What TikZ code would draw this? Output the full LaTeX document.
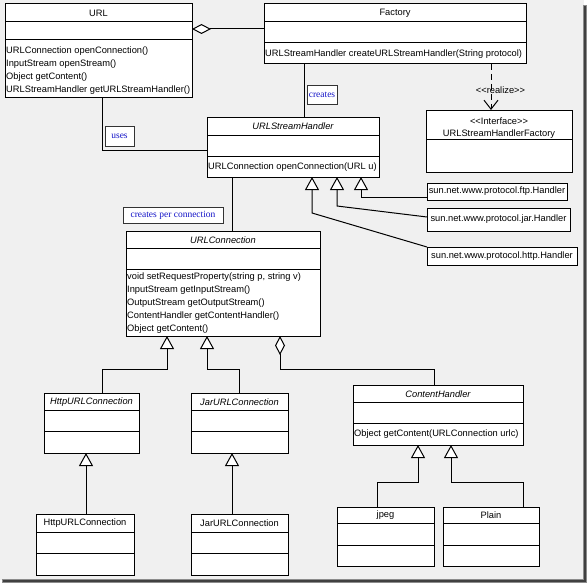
\documentclass[tikz,border=0pt]{standalone}
\usepackage{fontspec}
\setmainfont{Liberation Sans}
\newfontfamily\lblfont{Liberation Serif}
\usetikzlibrary{arrows.meta}
\definecolor{bg}{HTML}{F0F0F0}
\definecolor{lblblue}{RGB}{20,20,200}
\newcommand\umlcls[7]{%
  \node[cls, minimum width={(#4-#2)*1pt}, minimum height={(#5-#3)*1pt}] (#1) at ({(#2+#4)/2},{(#3+#5)/2}) {};
  \draw[ln] (#2,#6) -- (#4,#6);
  \draw[ln] (#2,#7) -- (#4,#7);
}
\begin{document}
\begin{tikzpicture}[x=1pt,y=-1pt,
  ln/.style={line width=1pt, black},
  cls/.style={draw, line width=1pt, fill=white, inner sep=0pt, outer sep=0pt},
  meth/.style={anchor=west, inner sep=0pt, font=\fontsize{9.3}{11}\selectfont},
  ttl/.style={inner sep=0pt, font=\fontsize{9.3}{11}\selectfont},
  ittl/.style={inner sep=0pt, font=\fontsize{9.3}{11}\selectfont\itshape},
  hbox/.style={draw, line width=1pt, fill=white, inner sep=0pt, outer sep=0pt, font=\fontsize{9.3}{11}\selectfont},
  lbl/.style={draw=black!80, fill=white, line width=0.8pt, inner sep=0pt, outer sep=0pt, text=lblblue, font=\lblfont\fontsize{9.5}{11}\selectfont},
  gen/.style={ln, -{Triangle[length=13pt,width=14pt,fill=white]}},
  agg/.style={ln, -{Diamond[length=19pt,width=10pt,fill=white]}},
  real/.style={ln, dash pattern=on 6pt off 4pt, -{Straight Barb[length=9pt,width=14pt]}},
  assoc/.style={ln}]
\useasboundingbox (0,0) rectangle (588,583);
\fill[white] (0,0) rectangle (588,583);
\fill[bg] (0,0) rectangle (584,580);
\fill[black!45] (583,5) rectangle (587,583);
\fill[black!45] (2,579) rectangle (587,583);
\fill[black!75] (584,6) rectangle (586,582);
\fill[black!75] (3,580) rectangle (586,582);

% classes
\umlcls{url}{5}{4}{192}{98}{22}{40}
\node[ttl] (urlT) at (98.5,13.5) {URL};
\node[meth] (urlM1) at (6,51) {URLConnection openConnection()};
\node[meth] (urlM2) at (6,64) {InputStream openStream()};
\node[meth] (urlM3) at (6,77) {Object getContent()};
\node[meth] (urlM4) at (6,90) {URLStreamHandler getURLStreamHandler()};

\umlcls{fac}{264}{4}{526}{64}{22}{43}
\node[ttl] (facT) at (395,13.5) {Factory};
\node[meth] (facM1) at (265,54) {URLStreamHandler createURLStreamHandler(String protocol)};

\umlcls{ush}{207}{117}{379}{177}{135}{156}
\node[ittl] (ushT) at (293,126.5) {URLStreamHandler};
\node[meth] (ushM1) at (208,167) {URLConnection openConnection(URL u)};

\umlcls{intf}{426}{110}{572}{172}{139}{139}
\node[ttl] (intfS) at (499,121) {<{}<Interface>{}>};
\node[ttl] (intfT) at (499,134) {URLStreamHandlerFactory};

\node[hbox, minimum width=140pt, minimum height=17pt] (ftp) at (497,191.5) {sun.net.www.protocol.ftp.Handler};
\node[hbox, minimum width=143pt, minimum height=23pt] (jar) at (498.5,219.5) {sun.net.www.protocol.jar.Handler};
\node[hbox, minimum width=150pt, minimum height=18pt] (http) at (502,256) {sun.net.www.protocol.http.Handler};

\umlcls{urlc}{126}{231}{320}{336}{248}{269}
\node[ittl] (urlcT) at (223,240.5) {URLConnection};
\node[meth] (urlcM1) at (127,277) {void setRequestProperty(string p, string v)};
\node[meth] (urlcM2) at (127,290) {InputStream getInputStream()};
\node[meth] (urlcM3) at (127,303) {OutputStream getOutputStream()};
\node[meth] (urlcM4) at (127,316) {ContentHandler getContentHandler()};
\node[meth] (urlcM5) at (127,329) {Object getContent()};

\umlcls{httpa}{44}{393}{139}{453}{410}{431}
\node[ittl] (httpaT) at (91.5,402.5) {HttpURLConnection};
\umlcls{jara}{191}{393}{288}{453}{410}{431}
\node[ittl] (jaraT) at (239.5,402.5) {JarURLConnection};

\umlcls{httpc}{36}{514}{134}{575}{532}{553}
\node[ttl] (httpcT) at (85,523.5) {HttpURLConnection};
\umlcls{jarc}{191}{514}{288}{575}{532}{553}
\node[ttl] (jarcT) at (239.5,523.5) {JarURLConnection};

\umlcls{ch}{353}{385}{523}{445}{402}{423}
\node[ittl] (chT) at (438,394.5) {ContentHandler};
\node[meth] (chM1) at (354,434) {Object getContent(URLConnection urlc)};

\umlcls{jpeg}{337}{507}{434}{566}{523}{545}
\node[ttl] (jpegT) at (385.5,515.5) {jpeg};
\umlcls{plain}{443}{507}{539}{566}{523}{545}
\node[ttl] (plainT) at (491,515.5) {Plain};

% connectors
\draw[agg] (fac.west |- 0,29) -- (url.east |- 0,29);
\draw[assoc] (102,0 |- url.south) -- (102,150) -- (ush.west |- 0,150);
\draw[assoc] (304,0 |- fac.south) -- (304,0 |- ush.north);
\draw[real] (491,0 |- fac.south) -- (491,0 |- intf.north);
\node[ttl] (realL) at (500.5,90) {<{}<realize>{}>};
\draw[assoc] (232,0 |- ush.south) -- (232,0 |- urlc.north);

\draw[gen] (ftp.west |- 0,197.5) -- (361,197.5) -- (361,0 |- ush.south);
\draw[gen] (jar.west |- 0,217) -- (337,206) -- (337,0 |- ush.south);
\draw[gen] (http.north west) -- (312,213) -- (312,0 |- ush.south);

\draw[gen] (102,0 |- httpa.north) -- (102,369) -- (167,369) -- (167,0 |- urlc.south);
\draw[gen] (239,0 |- jara.north) -- (239,369) -- (207,369) -- (207,0 |- urlc.south);
\draw[agg] (434,0 |- ch.north) -- (434,369) -- (280,369) -- (280,0 |- urlc.south);

\draw[gen] (86,0 |- httpc.north) -- (86,0 |- httpa.south);
\draw[gen] (232,0 |- jarc.north) -- (232,0 |- jara.south);

\draw[gen] (377,0 |- jpeg.north) -- (377,482) -- (418,482) -- (418,0 |- ch.south);
\draw[gen] (523,0 |- plain.north) -- (523,482) -- (451,482) -- (451,0 |- ch.south);

% labels
\node[lbl, minimum width=29pt, minimum height=20pt] (lUses) at (119.5,136) {uses};
\node[lbl, minimum width=30pt, minimum height=19pt] (lCreates) at (322,94.5) {creates};
\node[lbl, minimum width=100pt, minimum height=16pt] (lPer) at (173,215) {creates per connection};
\end{tikzpicture}
\end{document}
